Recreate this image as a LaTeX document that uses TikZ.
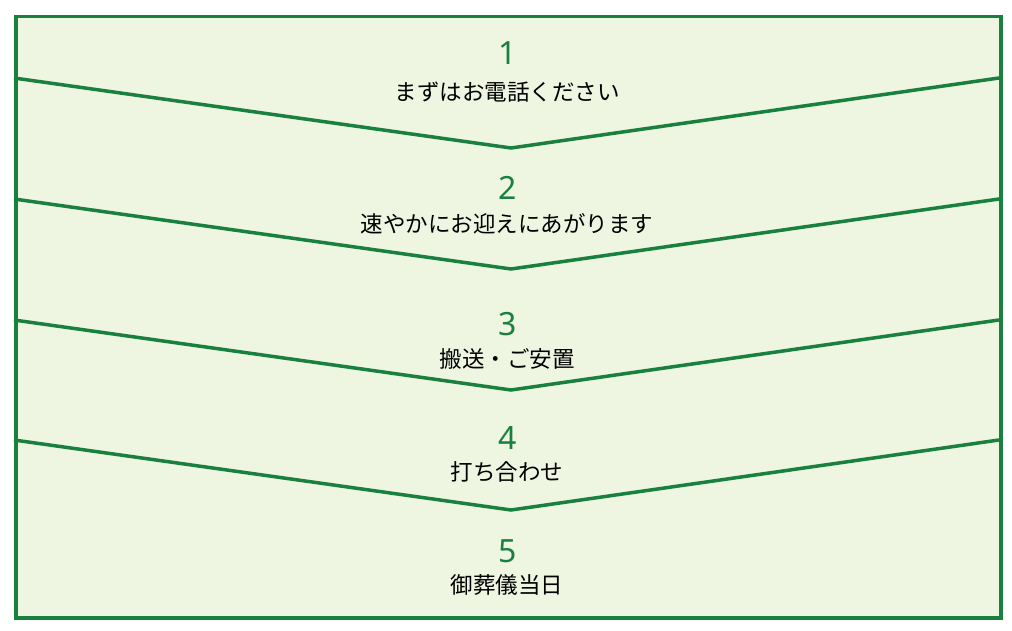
\documentclass[tikz,border=0pt]{standalone}
\usepackage{fontspec}
\setmainfont{Noto Sans}
\newfontfamily\cjk{Noto Sans CJK JP}
\definecolor{gr}{HTML}{1A8040}
\definecolor{bg}{HTML}{EEF5E1}
\begin{document}
\begin{tikzpicture}[x=1pt,y=-1pt,
  vline/.style={gr,line width=3.5pt},
  num/.style={text=gr,font=\fontsize{32}{32}\selectfont},
  lbl/.style={font=\cjk\fontsize{22.5}{22.5}\selectfont}]
\useasboundingbox (0,0) rectangle (1012,631);
\node[draw=gr,line width=3.5pt,fill=bg,minimum width=985pt,minimum height=601pt,inner sep=0,anchor=north west] (box) at (14,15) {};
\foreach \y [count=\i] in {78,199,320,440}{
  \coordinate (l\i) at (14,\y);
  \coordinate (m\i) at (511,\y+70);
  \coordinate (r\i) at (999,\y);
  \draw[vline] (l\i) -- (m\i) -- (r\i);
}
\node[num] (n1) at (508,53) {1};
\node[lbl] (t1) at (507,92) {まずはお電話ください};
\node[num] (n2) at (508,188) {2};
\node[lbl] (t2) at (507,224) {速やかにお迎えにあがります};
\node[num] (n3) at (508,324) {3};
\node[lbl] (t3) at (507,359) {搬送・ご安置};
\node[num] (n4) at (508,438) {4};
\node[lbl] (t4) at (507,472) {打ち合わせ};
\node[num] (n5) at (508,551) {5};
\node[lbl] (t5) at (507,585) {御葬儀当日};
\end{tikzpicture}
\end{document}
